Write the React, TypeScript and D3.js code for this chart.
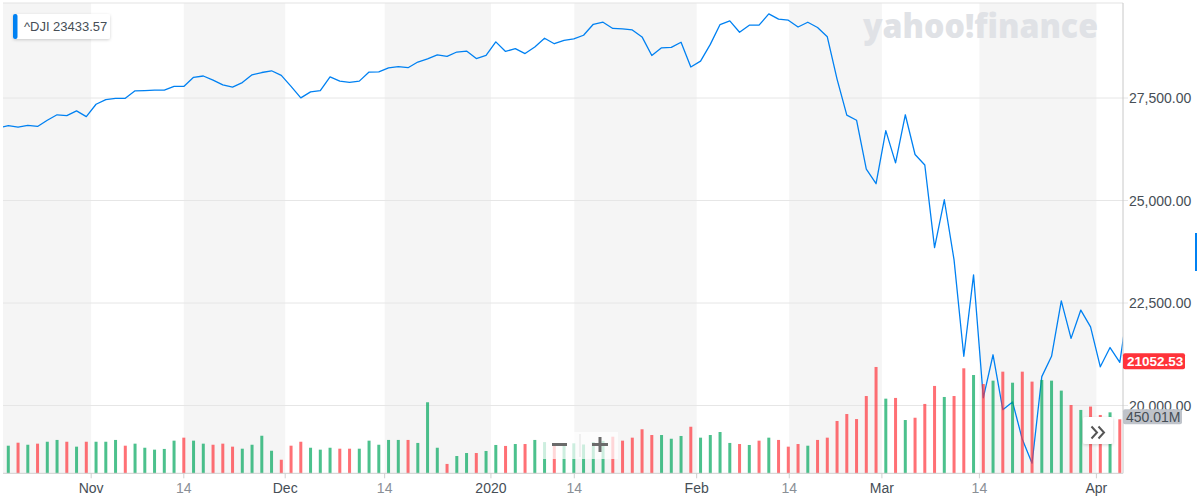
import React from "react";
import * as d3 from "d3";

// ^DJI daily closes, trading days Oct 18 2019 (index -1) .. Apr 6 2020 (index 115)
const closes: number[] = [
  26770.2,
  26827.64, 26788.1, 26833.95, 26805.53, 26958.06, 27090.72, 27071.46, 27186.69, 27046.23,
  27347.36, 27462.11, 27492.63, 27492.56, 27674.8, 27681.24, 27691.49, 27691.49, 27783.59, 27781.96,
  28004.89, 28036.22, 27934.02, 27821.09, 27766.29, 27875.62, 28066.47, 28121.68, 28164.0, 28051.41,
  27783.04, 27502.81, 27649.78, 27677.79, 28015.06, 27909.6, 27881.72, 27911.3, 28132.05, 28135.38,
  28235.89, 28267.16, 28239.28, 28376.96, 28455.09, 28551.53, 28515.45, 28621.39, 28645.26, 28462.14,
  28538.44, 28868.8, 28634.88, 28703.38, 28583.68, 28745.09, 28956.9, 28823.77, 28907.05, 28939.67,
  29030.22, 29297.64, 29348.1, 29196.04, 29186.27, 29160.09, 28989.73, 28535.8, 28722.85, 28734.45,
  28859.44, 28256.03, 28399.81, 28807.63, 29290.85, 29379.77, 29102.51, 29276.82, 29276.34, 29551.42,
  29423.31, 29398.08, 29232.19, 29348.03, 29219.98, 28992.41, 27960.8, 27081.36, 26957.59, 25766.64,
  25409.36, 26703.32, 25917.41, 27090.86, 26121.28, 25864.78, 23851.02, 25018.16, 23553.22, 21200.62,
  23185.62, 20188.52, 21237.38, 19898.92, 20087.19, 19173.98, 18591.93, 20704.91, 21200.55, 22552.17,
  21636.78, 22327.48, 21917.16, 20943.51, 21413.44, 21052.53,
  22679.99,
];
const closeStartIndex = -1;

// Volume in millions, Oct 21 2019 (index 0) .. Apr 3 2020 (index 114)
const volumes: number[] = [
  230, 255, 238, 247, 263, 278, 263, 222, 263, 263,
  263, 278, 230, 247, 213, 197, 203, 272, 297, 272,
  247, 238, 247, 222, 205, 238, 313, 188, 113, 230,
  263, 213, 197, 213, 205, 205, 205, 272, 238, 278,
  278, 278, 253, 592, 213, 78, 144, 169, 169, 186,
  236, 228, 244, 244, 278, 260, 250, 250, 250, 240,
  260, 270, 305, 272, 297, 367, 319, 319, 288, 311,
  388, 297, 319, 344, 253, 244, 236, 272, 297, 278,
  222, 244, 230, 278, 297, 436, 494, 452, 644, 886,
  622, 628, 444, 463, 578, 728, 636, 644, 875, 819,
  744, 772, 847, 755, 847, 764, 778, 772, 689, 569,
  528, 556, 486, 508, 450,
];
// u = up day (green), d = down day (red), groups of ten
const volumeDirection: string[] = [
  "ududuududu",
  "uuduuuuudu",
  "uddduuuudd",
  "duuudduuuu",
  "uduuuduudu",
  "ududuuduuu",
  "uuddddduuu",
  "duuuududud",
  "dduddddddd",
  "ududdduddu",
  "dududduuud",
  "uddud",
].join("").split("");

const priceTicks: number[] = [20000, 22500, 25000, 27500];
const xTickLabels: string[] = ["Nov", "14", "Dec", "14", "2020", "14", "Feb", "14", "Mar", "14", "Apr"];
const xTickPositions: number[] = [8.5, 18.0, 28.4, 38.6, 49.5, 58.05, 70.6, 80.1, 89.6, 99.6, 111.6];
const xTickMajor: boolean[] = [true, false, true, false, true, false, true, false, true, false, true];

const legendSymbol = "^DJI";
const legendValue = "23433.57";
const lastPriceLabel = "21052.53";
const lastVolumeLabel = "450.01M";
const lastVolume = 450.01;
const lastPrice = 21052.53;

const W = 1197;
const H = 500;
const plotLeft = 3;
const plotRight = 1123;
const plotTop = 3;
const plotBottom = 473.3;

export default function App() {
  const x = d3.scaleLinear().domain([0, 114]).range([8.3, 1119.8]);
  const y = d3.scaleLinear().domain([20000, 27500]).range([405.5, 98]);
  const yv = d3.scaleLinear().domain([0, 1000]).range([plotBottom, plotBottom - 120]);
  const fmt = d3.format(",.2f");

  const line = d3
    .line<number>()
    .x((_, i) => x(i + closeStartIndex))
    .y((d) => y(d));

  // bands: gray from plotLeft to first tick, then alternate
  const edges = [plotLeft, ...xTickPositions.map((p) => x(p)), plotRight];
  const bands: { x0: number; x1: number }[] = [];
  for (let i = 0; i < edges.length - 1; i += 2) {
    bands.push({ x0: edges[i], x1: edges[i + 1] });
  }

  const font = "'Liberation Sans', Arial, Helvetica, sans-serif";
  const green = "#00a65c";
  const red = "#ff333a";

  return (
    <svg
      width={W}
      height={H}
      style={{ position: "absolute", left: 0, top: 0, fontFamily: font }}
    >
      <defs>
        <clipPath id="plotClip">
          <rect x={plotLeft} y={plotTop} width={plotRight - plotLeft} height={plotBottom - plotTop} />
        </clipPath>
        <filter id="shadow" x="-20%" y="-30%" width="140%" height="160%">
          <feDropShadow dx="0" dy="1" stdDeviation="1.5" floodColor="#000" floodOpacity="0.18" />
        </filter>
      </defs>
      <rect x={0} y={0} width={W} height={H} fill="#fff" />
      {bands.map((b, i) => (
        <rect key={i} x={b.x0} y={plotTop} width={b.x1 - b.x0} height={plotBottom - plotTop} fill="#f5f5f5" />
      ))}
      {/* top border */}
      <line x1={plotLeft} x2={plotRight} y1={plotTop} y2={plotTop} stroke="#e3e3e3" />
      {/* watermark */}
      <text
        x={863}
        y={38}
        fontFamily="'Open Sans', Lato, sans-serif"
        fontWeight={800}
        fontSize={33}
        fill="#e0e2e6"
        textLength={235}
        lengthAdjust="spacingAndGlyphs"
      >
        yahoo!finance
      </text>
      {/* gridlines */}
      {priceTicks.map((t) => (
        <line key={t} x1={plotLeft} x2={plotRight + 5} y1={y(t)} y2={y(t)} stroke="#e6e6e6" />
      ))}
      {/* price line */}
      <g clipPath="url(#plotClip)">
        <path d={line(closes) || ""} fill="none" stroke="#0081f2" strokeWidth={1.3} strokeLinejoin="round" />
      </g>
      {/* volume bars */}
      {volumes.map((v, i) => (
        <rect
          key={i}
          x={x(i) - 1.5}
          y={yv(v)}
          width={3}
          height={plotBottom - yv(v)}
          fill={volumeDirection[i] === "u" ? green : red}
          fillOpacity={0.7}
        />
      ))}
      {/* axes */}
      <line x1={plotRight} x2={plotRight} y1={plotTop} y2={plotBottom} stroke="#c8c8c8" />
      <line x1={plotLeft} x2={plotRight} y1={plotBottom} y2={plotBottom} stroke="#cfcfcf" />
      {xTickPositions.map((p, i) => (
        <g key={i}>
          <line x1={x(p)} x2={x(p)} y1={plotBottom} y2={plotBottom + 5} stroke="#cfcfcf" />
          <text
            x={x(p)}
            y={493}
            textAnchor="middle"
            fontSize={14}
            fill={xTickMajor[i] ? "#464e56" : "#8a8f96"}
          >
            {xTickLabels[i]}
          </text>
        </g>
      ))}
      {priceTicks.map((t) => (
        <text key={t} x={1129} y={y(t) + 5} fontSize={14} fill="#464e56">
          {fmt(t)}
        </text>
      ))}
      {/* last price badge */}
      <rect x={plotRight} y={y(lastPrice) - 9} width={62} height={16} rx={2} fill="#ff333a" />
      <text x={1127} y={y(lastPrice) + 4} fontSize={13.5} fontWeight={700} fill="#fff">
        {lastPriceLabel}
      </text>
      {/* last volume badge */}
      <rect x={plotRight} y={yv(lastVolume) - 10} width={59} height={15} rx={2} fill="#bfc3ca" />
      <text x={1126} y={yv(lastVolume) + 2.5} fontSize={14} fill="#464e56">
        {lastVolumeLabel}
      </text>
      {/* legend */}
      <g filter="url(#shadow)">
        <rect x={13} y={14} width={97} height={25} rx={2} fill="#fff" />
      </g>
      <rect x={13} y={14} width={4.5} height={25} rx={2} fill="#0081f2" />
      <text x={24} y={31} fontSize={13} fill="#464e56">
        {legendSymbol}
      </text>
      <text x={53} y={31} fontSize={13} fill="#464e56">
        {legendValue}
      </text>
      {/* zoom buttons */}
      <rect x={543} y={432} width={75} height={27} fill="#fff" fillOpacity={0.72} />
      <line x1={580} x2={580} y1={434} y2={457} stroke="#e2e2e2" />
      <line x1={552} x2={567} y1={444.5} y2={444.5} stroke="#6b6b6b" strokeWidth={3} />
      <line x1={592} x2={608} y1={444.5} y2={444.5} stroke="#6b6b6b" strokeWidth={3} />
      <line x1={600} x2={600} y1={437} y2={452} stroke="#6b6b6b" strokeWidth={3} />
      {/* scroll button */}
      <g filter="url(#shadow)">
        <rect x={1083} y={417} width={30} height={27} rx={2} fill="#fff" />
      </g>
      <path
        d="M1091.5,426.5 L1097,432.5 L1091.5,438.5 M1098.5,426.5 L1104,432.5 L1098.5,438.5"
        fill="none"
        stroke="#555"
        strokeWidth={2}
      />
      {/* edge marker */}
      <rect x={1195} y={233} width={2} height={38} fill="#0081f2" />
    </svg>
  );
}
